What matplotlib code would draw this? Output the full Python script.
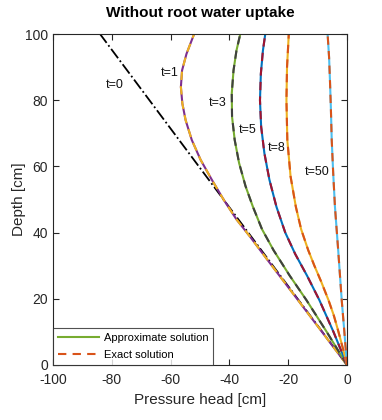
import matplotlib
matplotlib.use("Agg")
import matplotlib.pyplot as plt
from matplotlib.lines import Line2D

plt.rcParams['font.family'] = ['Liberation Sans', 'DejaVu Sans']
plt.rcParams['axes.unicode_minus'] = False

# Data (depth [cm], pressure head [cm])
t0_depth = [0, 20, 40, 60, 80, 100]
t0_head = [0, -16.8, -33.6, -50.4, -67.2, -84.0]

t1_depth = [0, 10, 20, 31.7, 38.8, 44, 50, 56, 62, 68, 74, 79, 84, 89, 94, 100]
t1_head = [0, -8.5, -17.0, -27.0, -33.0, -37.6, -42.0, -46.0, -49.8, -52.8, -54.9,
           -56.0, -56.5, -56.1, -54.6, -52.0]

t3_depth = [0, 10, 19.6, 27, 34.7, 41, 47.8, 54, 61, 68, 75, 82, 89, 95, 100]
t3_head = [0, -6.9, -13.8, -19.5, -25.0, -28.9, -32.0, -34.5, -36.7, -38.2, -39.1,
           -39.2, -38.6, -37.6, -36.3]

t5_depth = [0, 10, 19.6, 27, 33.5, 40, 47.8, 56, 64, 72, 80, 88, 95, 100]
t5_head = [0, -4.6, -9.4, -13.6, -17.6, -21.0, -24.0, -26.4, -28.1, -29.2, -29.6,
           -29.3, -28.6, -27.8]

t8_depth = [0, 5, 10, 15, 19.6, 25, 30, 34.7, 41, 47.8, 57, 68, 80, 90, 100]
t8_head = [0, -1.4, -2.9, -4.5, -6.3, -8.7, -11.1, -13.2, -15.6, -17.4, -19.2, -20.3,
           -20.6, -20.4, -19.8]

t50_depth = [0, 10, 19.6, 34.7, 47.8, 58, 68, 78, 86, 93, 100]
t50_head = [0, -0.9, -1.8, -3.0, -4.1, -4.7, -5.2, -5.5, -5.8, -6.1, -6.6]

curve_labels = ['t=0', 't=1', 't=3', 't=5', 't=8', 't=50']
label_head = [-78.9, -60.2, -43.9, -33.7, -23.8, -10.2]
label_depth = [84.6, 88.2, 79.2, 71.0, 65.6, 58.3]

approx_colors = ['#7E2F8E', '#77AC30', '#0072BD', '#EDB120', '#4DBEEE']
exact_colors = ['#EDB120', '#404040', '#A2142F', '#D95319', '#D95319']

fig = plt.figure(figsize=(3.82, 4.20), dpi=100)
ax = fig.add_axes([0.1387, 0.131, 0.7697, 0.788])

ax.plot(t0_head, t0_depth, color='black', linestyle='-.', linewidth=1.3)

series = [(t1_head, t1_depth), (t3_head, t3_depth), (t5_head, t5_depth),
          (t8_head, t8_depth), (t50_head, t50_depth)]
for (h, d), ca, ce in zip(series, approx_colors, exact_colors):
    ax.plot(h, d, color=ca, linewidth=1.5, solid_joinstyle='round')
    ax.plot(h, d, color=ce, linewidth=1.5, linestyle=(0, (4, 3)),
            dash_joinstyle='round')

for lab, x, y in zip(curve_labels, label_head, label_depth):
    ax.text(x, y, lab, fontsize=9, ha='center', va='center', color='#111111')

ax.set_xlim(-100, 0)
ax.set_ylim(0, 100)
ax.set_xticks([-100, -80, -60, -40, -20, 0])
ax.set_yticks([0, 20, 40, 60, 80, 100])
ax.tick_params(direction='in', top=True, right=True, labelsize=10,
               colors='#262626', length=4, width=0.8)
ax.tick_params(axis='x', pad=6)
for s in ax.spines.values():
    s.set_color('#262626')
    s.set_linewidth(0.8)

ax.set_xlabel('Pressure head [cm]', fontsize=11, color='#262626', labelpad=4)
ax.set_ylabel('Depth [cm]', fontsize=11, color='#262626', labelpad=-1)
ax.set_title('Without root water uptake', fontsize=11, fontweight='bold', pad=12)

handles = [Line2D([], [], color='#77AC30', linewidth=1.5),
           Line2D([], [], color='#D95319', linewidth=1.5, linestyle=(0, (4, 3)))]
leg = ax.legend(handles, ['Approximate solution', 'Exact solution'],
                loc='lower left', bbox_to_anchor=(0, 0), borderaxespad=0,
                fontsize=8, frameon=True, fancybox=False, handlelength=3.7,
                handletextpad=0.4, borderpad=0.45, labelspacing=0.6)
leg.get_frame().set_edgecolor('#262626')
leg.get_frame().set_linewidth(0.8)

fig.savefig('out.png', dpi=100)
